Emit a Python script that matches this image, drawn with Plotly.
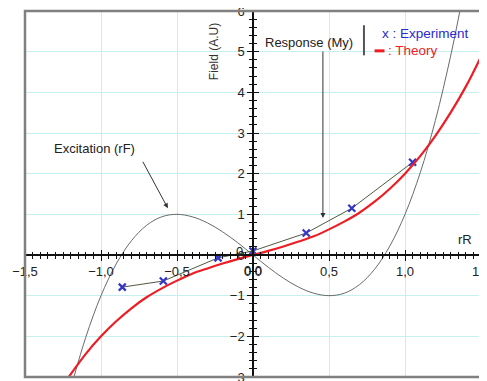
import plotly.graph_objects as go

# Excitation (rF) curve
exc_x = [-1.18, -1.1, -1.0, -0.9, -0.8, -0.7, -0.6, -0.5, -0.4, -0.3, -0.2, -0.1, 0.0,
         0.1, 0.2, 0.3, 0.4, 0.5, 0.6, 0.7, 0.8, 0.9, 1.0, 1.1, 1.2, 1.3, 1.37]
exc_y = [-3.03, -2.02, -1.0, -0.22, 0.35, 0.73, 0.94, 1.0, 0.94, 0.79, 0.57, 0.30, 0.0,
         -0.30, -0.57, -0.79, -0.94, -1.0, -0.94, -0.73, -0.35, 0.22, 1.0, 2.02, 3.31, 4.89, 6.17]

# Theory curve
th_x = [-1.22, -1.1, -1.0, -0.9, -0.8, -0.7, -0.6, -0.5, -0.4, -0.3, -0.2, -0.1, 0.0,
        0.1, 0.2, 0.3, 0.4, 0.5, 0.6, 0.7, 0.8, 0.9, 1.0, 1.1, 1.2, 1.3, 1.4, 1.5]
th_y = [-3.04, -2.43, -2.0, -1.63, -1.31, -1.04, -0.82, -0.63, -0.46, -0.33, -0.21, -0.10, 0.0,
        0.10, 0.21, 0.33, 0.46, 0.63, 0.82, 1.04, 1.31, 1.63, 2.0, 2.43, 2.93, 3.50, 4.14, 4.88]

# Experiment points
exp_x = [-0.86, -0.59, -0.23, 0.0, 0.35, 0.65, 1.05]
exp_y = [-0.79, -0.64, -0.07, 0.10, 0.54, 1.15, 2.28]

FONT = "Liberation Sans, Arial, sans-serif"

fig = go.Figure()
fig.add_trace(go.Scatter(x=exc_x, y=exc_y, mode="lines", line=dict(color="#6a6a6a", width=1, shape="spline"),
                         showlegend=False, hoverinfo="skip"))
fig.add_trace(go.Scatter(x=exp_x, y=exp_y, mode="lines+markers",
                         line=dict(color="#505a40", width=1),
                         marker=dict(symbol="x-thin", size=7, color="#3535c8",
                                     line=dict(color="#3535c8", width=2.2)),
                         showlegend=False))
fig.add_trace(go.Scatter(x=th_x, y=th_y, mode="lines", line=dict(color="#ee1c24", width=2.2, shape="spline"),
                         showlegend=False))
# dummy trace for overlay axes
fig.add_trace(go.Scatter(x=[None], y=[None], xaxis="x2", yaxis="y2", showlegend=False))

tick_font = dict(family=FONT, size=13, color="#222")
# page body has an 8px margin, so the figure is placed at (8, 8)
fig.update_layout(
    width=479, height=373,
    margin=dict(l=17, r=6, t=3, b=4),
    paper_bgcolor="white", plot_bgcolor="white",
    separators=", ",
    showlegend=False,
    xaxis=dict(range=[-1.5, 1.5], anchor="free", position=1/3, showline=True, linecolor="#111", linewidth=1.5,
               ticks="outside", ticklen=5, tickcolor="#111", tick0=-1.5, dtick=0.5, tickformat=".1f",
               minor=dict(dtick=0.05, ticks="outside", ticklen=3, tickcolor="#111", showgrid=False),
               showgrid=True, gridcolor="#c6f0f0", gridwidth=1, zeroline=False, tickfont=tick_font,
               automargin=False, ticklabeloverflow="allow"),
    yaxis=dict(range=[-3, 6], anchor="free", position=0.5, showline=True, linecolor="#111", linewidth=1.5,
               ticks="outside", ticklen=5, tickcolor="#111", dtick=1,
               minor=dict(dtick=0.2, ticks="outside", ticklen=3, tickcolor="#111", showgrid=False),
               showgrid=True, gridcolor="#c6f0f0", gridwidth=1, zeroline=False, tickfont=tick_font,
               automargin=False, ticklabeloverflow="allow"),
    xaxis2=dict(range=[-1.5, 1.5], overlaying="x", anchor="free", position=1/3, showline=False,
                ticks="inside", ticklen=5, tickcolor="#111", tick0=-1.5, dtick=0.5, showticklabels=False,
                minor=dict(dtick=0.05, ticks="inside", ticklen=3, tickcolor="#111", showgrid=False),
                showgrid=False, zeroline=False, automargin=False),
    yaxis2=dict(range=[-3, 6], overlaying="y", anchor="free", position=0.5, showline=False,
                ticks="inside", ticklen=5, tickcolor="#111", dtick=1, showticklabels=False,
                minor=dict(dtick=0.2, ticks="inside", ticklen=3, tickcolor="#111", showgrid=False),
                showgrid=False, zeroline=False, automargin=False),
)

# plot frame
fig.add_shape(type="rect", xref="paper", yref="paper", x0=0, y0=0, x1=1, y1=1,
              line=dict(color="#808080", width=2.5))
# legend separator bar
fig.add_shape(type="line", xref="x", yref="y", x0=0.73, x1=0.73, y0=4.91, y1=5.65,
              line=dict(color="#555", width=2))
# legend red dash
fig.add_shape(type="line", xref="x", yref="y", x0=0.80, x1=0.865, y0=5.02, y1=5.02,
              line=dict(color="#ee1c24", width=3))

ann_font = dict(family=FONT, size=13, color="#222")
# origin tick labels (plotly hides them where the axes cross)
fig.add_annotation(x=0, y=-0.39, text="0,0", showarrow=False, font=tick_font)
fig.add_annotation(x=-0.05, y=0.08, text="0", showarrow=False, xanchor="right", font=tick_font)

fig.add_annotation(x=-0.26, y=5.0, text="Field (A.U)", showarrow=False, textangle=-90,
                   font=dict(family=FONT, size=12, color="#333"))
fig.add_annotation(x=1.395, y=0.37, text="rR", showarrow=False, font=ann_font)
fig.add_annotation(x=-1.04, y=2.63, text="Excitation (rF)", showarrow=False, font=ann_font)
fig.add_annotation(x=-0.56, y=1.15, ax=-0.73, ay=2.33, axref="x", ayref="y", text="",
                   showarrow=True, arrowhead=2, arrowsize=1, arrowwidth=1, arrowcolor="#333")
fig.add_annotation(x=0.37, y=5.23, text="Response (My)", showarrow=False, font=ann_font)
fig.add_annotation(x=0.46, y=0.91, ax=0.46, ay=5.04, axref="x", ayref="y", text="",
                   showarrow=True, arrowhead=2, arrowsize=1, arrowwidth=1, arrowcolor="#333")
fig.add_annotation(x=0.835, y=5.45, text="x : Experiment", showarrow=False, xanchor="left",
                   font=dict(family=FONT, size=13.5, color="#2a2ad0"))
fig.add_annotation(x=0.875, y=5.04, text=": Theory", showarrow=False, xanchor="left",
                   font=dict(family=FONT, size=13.5, color="#ee1c24"))

fig.write_html("out.html")
